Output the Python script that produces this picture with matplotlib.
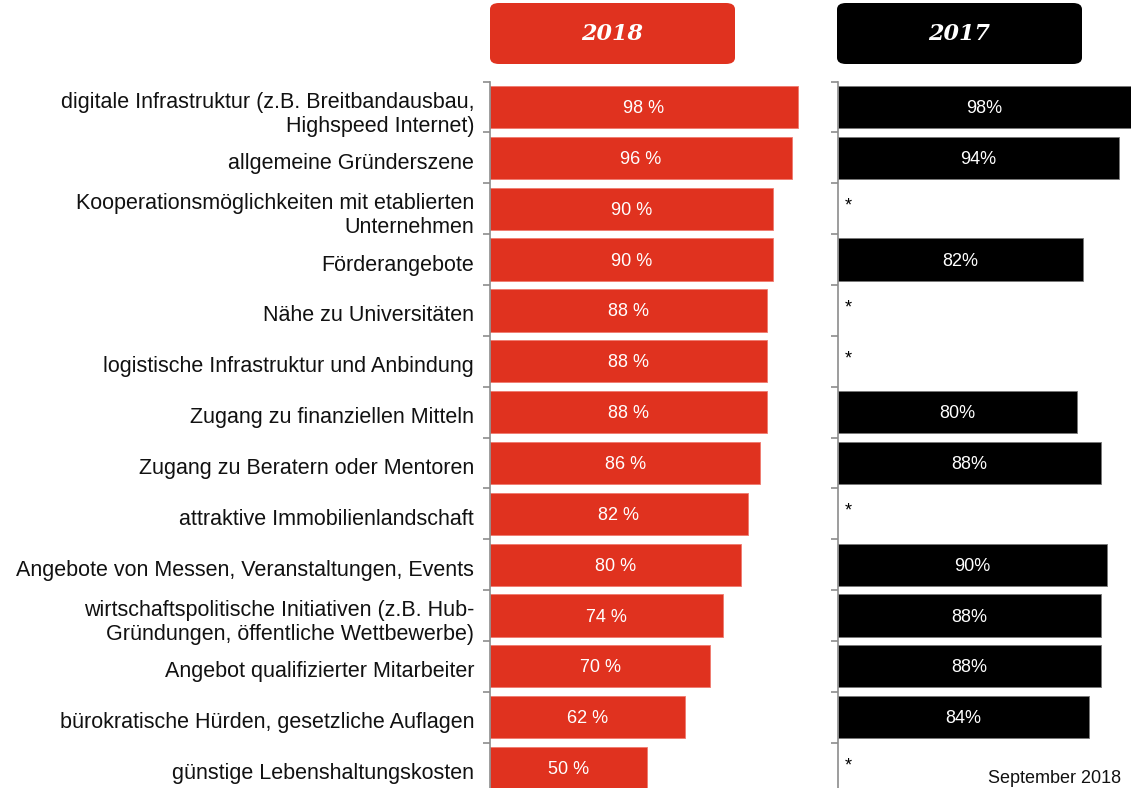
import matplotlib.pyplot as plt
import numpy as np
from matplotlib.patches import FancyBboxPatch
from matplotlib.transforms import ScaledTranslation

plt.rcParams['font.family'] = ['Liberation Sans', 'DejaVu Sans']

# data
categories = [
    "digitale Infrastruktur (z.B. Breitbandausbau,\nHighspeed Internet)",
    "allgemeine Gründerszene",
    "Kooperationsmöglichkeiten mit etablierten\nUnternehmen",
    "Förderangebote",
    "Nähe zu Universitäten",
    "logistische Infrastruktur und Anbindung",
    "Zugang zu finanziellen Mitteln",
    "Zugang zu Beratern oder Mentoren",
    "attraktive Immobilienlandschaft",
    "Angebote von Messen, Veranstaltungen, Events",
    "wirtschaftspolitische Initiativen (z.B. Hub-\nGründungen, öffentliche Wettbewerbe)",
    "Angebot qualifizierter Mitarbeiter",
    "bürokratische Hürden, gesetzliche Auflagen",
    "günstige Lebenshaltungskosten",
]
values_2018 = [98, 96, 90, 90, 88, 88, 88, 86, 82, 80, 74, 70, 62, 50]
values_2017 = [98, 94, None, 82, None, None, 80, 88, None, 90, 88, 88, 84, None]

red = "#e0321f"
W, H = 1132, 788

fig = plt.figure(figsize=(W / 100, H / 100), dpi=100)

def px_axes(x0, x1, y0, y1):
    return fig.add_axes([x0 / W, 1 - y1 / H, (x1 - x0) / W, (y1 - y0) / H])

ax1 = px_axes(490, 804.3, 81.6, 793.5)
ax2 = px_axes(838, 1131, 81.6, 793.5)

y = np.arange(len(categories))

for ax in (ax1, ax2):
    ax.set_ylim(len(categories) - 0.5, -0.5)
    for s in ("top", "right", "bottom"):
        ax.spines[s].set_visible(False)
    ax.spines["left"].set_color("#8c8c8c")
    ax.spines["left"].set_linewidth(1.2)
    ax.set_xticks([])
    ax.set_yticks(y)
    ax.set_yticks(np.arange(len(categories) + 1) - 0.5, minor=True)
    ax.tick_params(axis="y", which="major", length=0)
    ax.tick_params(axis="y", which="minor", length=5, color="#8c8c8c", width=1.2)

ax1.set_xlim(0, 100)
ax2.set_xlim(0, 98)

ax1.barh(y, values_2018, height=0.83, color=red, edgecolor="#f07a6e", linewidth=0.6)
ax1.set_yticklabels(categories, fontsize=15.5, color="#111111", linespacing=1.2)
ax1.tick_params(axis="y", which="major", pad=11.5)
shift = ScaledTranslation(0, -3 / 100, fig.dpi_scale_trans)
for lab in ax1.get_yticklabels():
    lab.set_transform(lab.get_transform() + shift)
for yi, v in zip(y, values_2018):
    ax1.text(v / 2, yi + 0.03, f"{v} %", ha="center", va="center", color="white", fontsize=13)

ax2.set_yticklabels([])
for yi, v in zip(y, values_2017):
    if v is None:
        ax2.text(3.5, yi - 0.05, "*", ha="center", va="center", fontsize=13, color="black")
    else:
        ax2.barh(yi, v, height=0.83, color="black", edgecolor="#777777", linewidth=0.6)
        ax2.text(v / 2, yi + 0.03, f"{v}%", ha="center", va="center", color="white", fontsize=13)

# header boxes
for x0, x1, col, label in [(490, 735, red, "2018"), (837, 1082, "black", "2017")]:
    box = FancyBboxPatch((x0 / W, 1 - 64 / H), (x1 - x0) / W, 61 / H,
                         boxstyle="round,pad=0,rounding_size=0.008",
                         transform=fig.transFigure, facecolor=col, edgecolor="none")
    fig.patches.append(box)
    fig.text((x0 + x1) / 2 / W, 1 - 34 / H, label, ha="center", va="center",
             color="white", fontsize=16, fontweight="bold", fontstyle="italic",
             family=["DejaVu Serif"])

fig.text(988 / W, 1 - 787 / H, "September 2018", ha="left", va="bottom",
         fontsize=13, color="#111111")

fig.savefig("out.png", dpi=100)
